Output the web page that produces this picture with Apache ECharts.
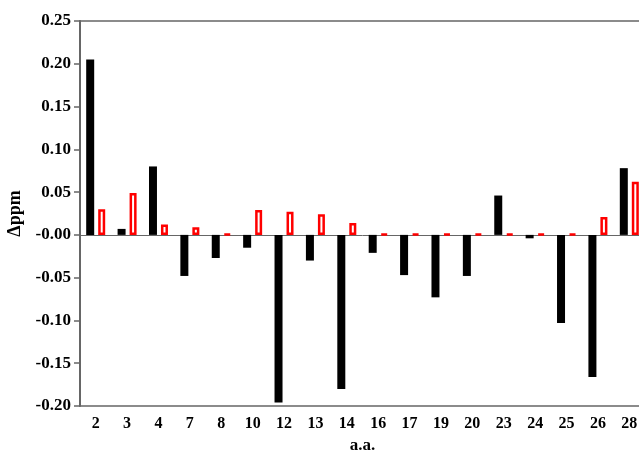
<!DOCTYPE html>
<html>
<head>
<meta charset="utf-8">
<script src="https://cdn.jsdelivr.net/npm/echarts@6/dist/echarts.min.js"></script>
<style>
html,body{margin:0;padding:0;background:#fff;overflow:hidden;width:639px;height:451px;}
#chart{width:700px;height:451px;}
</style>
</head>
<body>
<div id="chart"></div>
<script>
const categories = ['2','3','4','7','8','10','12','13','14','16','17','19','20','23','24','25','26','28'];
const blackValues = [0.205, 0.007, 0.080, -0.048, -0.027, -0.015, -0.196, -0.030, -0.180, -0.021, -0.047, -0.073, -0.048, 0.046, -0.004, -0.103, -0.166, 0.078];
const redValues = [0.030, 0.049, 0.012, 0.009, 0, 0.029, 0.027, 0.024, 0.014, 0, 0, 0, 0, 0, 0, 0, 0.021, 0.062];
const yTickValues = [-0.20, -0.15, -0.10, -0.05, 0, 0.05, 0.10, 0.15, 0.20, 0.25];
const yTickLabels = ['-0.20', '-0.15', '-0.10', '-0.05', '-0.00', '0.05', '0.10', '0.15', '0.20', '0.25'];

const font = 'Liberation Serif';
const chart = echarts.init(document.getElementById('chart'));
chart.setOption({
  animation: false,
  backgroundColor: '#fff',
  grid: {
    left: 80, top: 21, width: 565, height: 385,
    outerBoundsMode: 'none',
    containLabel: false,
    show: true, borderColor: '#666', borderWidth: 1.5, backgroundColor: 'transparent'
  },
  xAxis: {
    type: 'category',
    data: categories,
    axisLine: { show: false },
    axisTick: { show: false },
    axisLabel: { fontFamily: font, fontWeight: 'bold', fontSize: 16, color: '#000', margin: 10 },
    name: 'a.a.',
    nameLocation: 'middle',
    nameGap: 30,
    nameTextStyle: { fontFamily: font, fontWeight: 'bold', fontSize: 17, color: '#000' }
  },
  yAxis: {
    type: 'value',
    min: -0.20, max: 0.25, interval: 0.05,
    splitLine: { show: false },
    axisLine: { show: true, lineStyle: { color: '#666', width: 2 } },
    axisTick: { show: true, length: 6, lineStyle: { color: '#666', width: 1.5 } },
    axisLabel: {
      fontFamily: font, fontWeight: 'bold', fontSize: 17, color: '#000', margin: 9,
      formatter: function (v) {
        for (let i = 0; i < yTickValues.length; i++) {
          if (Math.abs(v - yTickValues[i]) < 1e-9) return yTickLabels[i];
        }
        return '';
      }
    },
    name: 'Δppm',
    nameLocation: 'middle',
    nameGap: 48,
    nameTextStyle: { fontFamily: font, fontWeight: 'bold', fontSize: 18, color: '#000' }
  },
  series: [
    {
      type: 'bar',
      data: blackValues,
      barWidth: 8,
      barGap: '50%',
      z: 2,
      itemStyle: { color: '#000' },
      markLine: {
        silent: true,
        symbol: 'none',
        z: 1,
        label: { show: false },
        lineStyle: { color: '#666', width: 1, type: 'solid' },
        data: [{ yAxis: 0 }]
      }
    },
    {
      type: 'bar',
      data: redValues,
      barWidth: 7,
      barMinHeight: 1,
      z: 5,
      itemStyle: { color: '#fff', borderColor: '#ff0000', borderWidth: 2.5 }
    }
  ]
});
</script>
</body>
</html>
